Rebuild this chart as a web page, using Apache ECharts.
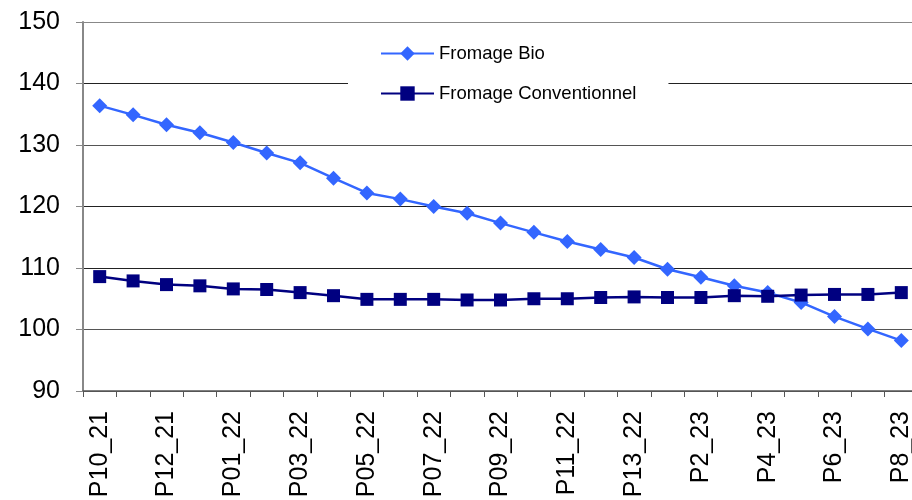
<!DOCTYPE html>
<html>
<head>
<meta charset="utf-8">
<script src="https://cdn.jsdelivr.net/npm/echarts@6/dist/echarts.min.js"></script>
<style>html,body{margin:0;padding:0;background:#fff;}#c{width:912px;height:500px;}</style>
</head>
<body>
<div id="c"></div>
<script>
const categories = ['P10_21','P11_21','P12_21','P13_21','P01_22','P02_22','P03_22','P04_22','P05_22','P06_22','P07_22','P08_22','P09_22','P10_22','P11_22','P12_22','P13_22','P1_23','P2_23','P3_23','P4_23','P5_23','P6_23','P7_23','P8_23'];
const fromageBio = [136.4,134.9,133.3,132.0,130.4,128.7,127.1,124.6,122.2,121.2,120.0,118.9,117.3,115.8,114.3,113.0,111.7,109.8,108.5,107.1,106.0,104.4,102.1,100.1,98.2];
const fromageConv = [108.6,107.9,107.3,107.1,106.6,106.5,106.0,105.5,104.9,104.9,104.9,104.8,104.8,105.0,105.0,105.2,105.3,105.2,105.2,105.5,105.4,105.6,105.7,105.7,106.0];
const seriesNames = ['Fromage Bio','Fromage Conventionnel'];

const chart = echarts.init(document.getElementById('c'), null, {renderer:'canvas'});
chart.setOption({
  animation:false,
  backgroundColor:'#fff',
  textStyle:{fontFamily:'Liberation Sans, Arial, sans-serif'},
  grid:{left:83, top:22, width:835, height:369, containLabel:false, outerBoundsMode:'none'},
  legend:{
    orient:'vertical',
    left:348, top:30,
    padding:[14,32,12,32],
    backgroundColor:'#fff',
    itemWidth:53, itemHeight:18, itemGap:21, itemTextGap:5,
    textStyle:{fontSize:18.5, color:'#000', fontFamily:'Liberation Sans, Arial, sans-serif'},
    data:seriesNames
  },
  xAxis:{
    type:'category', data:categories, boundaryGap:true,
    axisLine:{lineStyle:{color:'#555', width:1.5}},
    axisTick:{show:true, interval:0, length:6, lineStyle:{color:'#555'}},
    axisLabel:{interval:1, rotate:90, fontSize:25, color:'#000', margin:20, fontFamily:'Liberation Sans, Arial, sans-serif'},
    splitLine:{show:false}
  },
  yAxis:{
    type:'value', min:90, max:150, interval:10,
    axisLine:{show:true, lineStyle:{color:'#888', width:2}},
    axisTick:{show:true, length:7, lineStyle:{color:'#888'}},
    axisLabel:{fontSize:25, color:'#000', margin:23, fontFamily:'Liberation Sans, Arial, sans-serif'},
    splitLine:{show:true, lineStyle:{color:['#555','#555','#222','#222','#555','#222','#888'], width:1.2}}
  },
  series:[
    {name:seriesNames[0], type:'line', data:fromageBio, symbol:'diamond', symbolSize:15,
     itemStyle:{color:'#3366FF'}, lineStyle:{color:'#3366FF', width:2.5}},
    {name:seriesNames[1], type:'line', data:fromageConv, symbol:'rect', symbolSize:13,
     itemStyle:{color:'#000080'}, lineStyle:{color:'#000080', width:2.5}, z:3}
  ]
});
</script>
</body>
</html>
